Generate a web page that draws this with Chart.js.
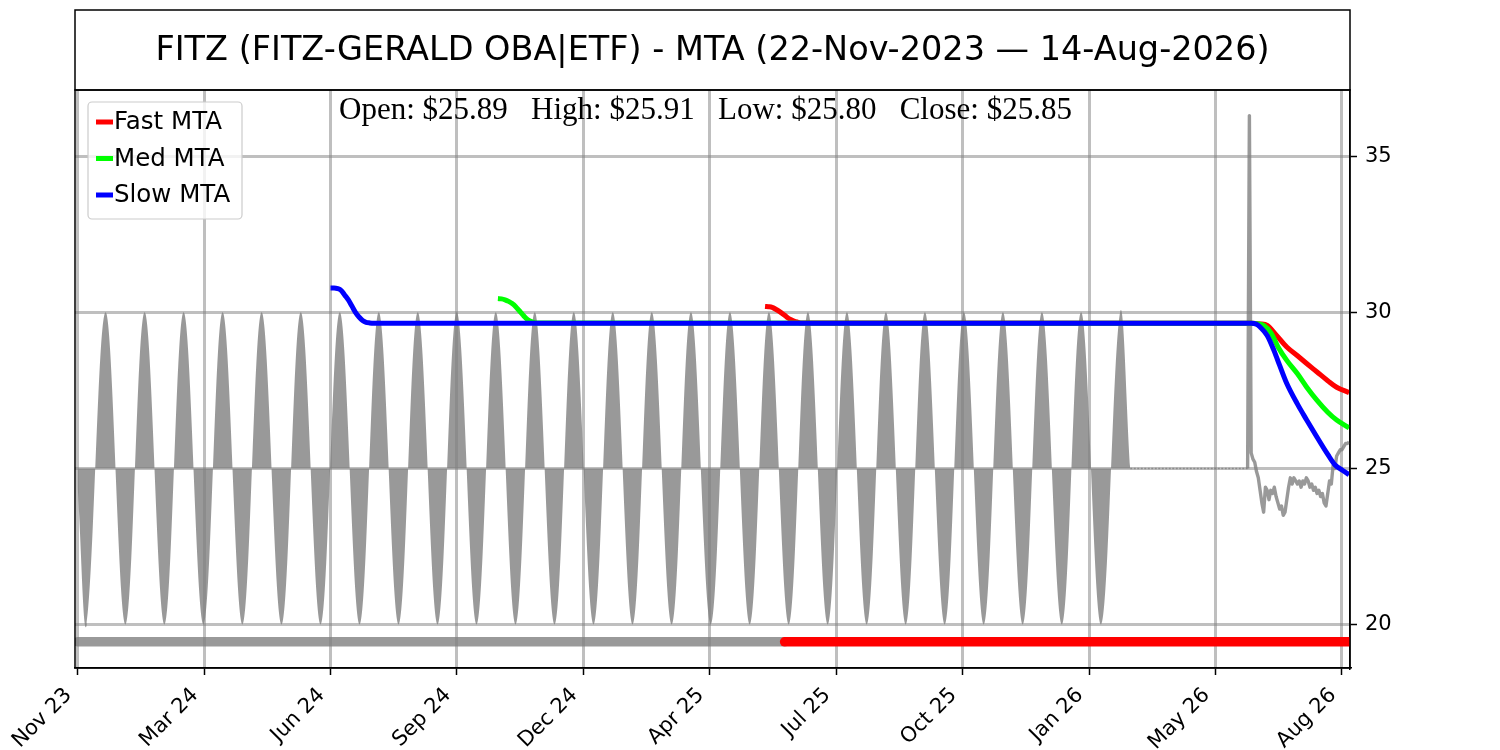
<!DOCTYPE html>
<html>
<head>
<meta charset="utf-8">
<title>FITZ MTA</title>
<script src="https://cdn.jsdelivr.net/npm/chart.js@4.4.1/dist/chart.umd.min.js"></script>
<style>
  html, body { margin: 0; padding: 0; background: #fff; }
  #wrap { width: 1500px; height: 750px; }
</style>
</head>
<body>
<div id="wrap"><canvas id="mtaChart" width="1500" height="750"></canvas></div>
<script>
const chartTitle = "FITZ (FITZ-GERALD OBA|ETF) - MTA (22-Nov-2023 \u2014 14-Aug-2026)";
const ohlcText = "Open: $25.89   High: $25.91   Low: $25.80   Close: $25.85";

// x is the trading-day index, ticks every 71 sessions
const xTickIdx = [0, 71, 142, 213, 284, 355, 426, 497, 568, 639, 710];
const xTickLabels = ["Nov 23", "Mar 24", "Jun 24", "Sep 24", "Dec 24", "Apr 25",
  "Jul 25", "Oct 25", "Jan 26", "May 26", "Aug 26"];
const yTicks = [20, 25, 30, 35];

// price swings (grey filled zone around 25): troughs at 20, peaks at 30
const swingStart = { x: 0, y: 24.4 };
const troughIdx = [5.1, 27.0, 48.9, 70.8, 92.7, 114.7, 136.6, 158.5, 180.4, 202.3, 224.2, 246.1, 268.0, 289.9,
  311.8, 333.8, 355.7, 377.6, 399.5, 421.4, 443.3, 465.2, 487.1, 509.0, 530.9, 552.9, 574.8];
const peakIdx = [15.7, 37.6, 59.5, 81.4, 103.3, 125.3, 147.2, 169.1, 191.0, 212.9, 234.8, 256.7, 278.6, 300.5,
  322.4, 344.4, 366.3, 388.2, 410.1, 432.0, 453.9, 475.8, 497.7, 519.6, 541.5, 563.5, 585.4];
const swingEnd = { x: 591.1, y: 25 };
const troughPrice = 20;
const basePrice = 25;
const peakPrice = 30;

// quiet stretch, then the live prices
const flatIdx = [591.1, 657];
const flatPrice = [25, 25];
const liveStart = 657;
const livePrice = [25.0, 36.3, 25.5, 25.3, 25.2, 24.9, 24.7, 24.3, 23.9, 23.6, 24.4, 24.3, 24.0, 24.3, 24.2,
  24.4, 24.1, 23.9, 23.7, 23.8, 23.5, 23.6, 24.0, 24.4, 24.7, 24.5, 24.7, 24.6, 24.5, 24.6, 24.4, 24.6,
  24.5, 24.7, 24.6, 24.4, 24.5, 24.3, 24.4, 24.2, 24.3, 24.1, 24.2, 23.9, 23.8, 24.2, 24.6, 24.5, 25.1,
  25.0, 25.4, 25.5, 25.6, 25.6, 25.7, 25.8, 25.8, 25.85];

// moving trend averages
const fastIdx = [386, 388, 390, 392, 394, 396, 398, 400, 402, 404, 406, 659, 664, 668, 673, 679, 685, 690, 696, 702, 707, 714];
const fastVal = [30.19, 30.18, 30.16, 30.1, 30.03, 29.95, 29.86, 29.78, 29.73, 29.69, 29.66, 29.65, 29.63, 29.58,
  29.28, 28.89, 28.61, 28.37, 28.09, 27.81, 27.6, 27.43];
const medIdx = [236, 238, 240, 242, 244, 246, 248, 250, 252, 254, 256, 258, 659, 663, 666, 670, 674, 679, 685, 690, 696, 702, 707, 714];
const medVal = [30.44, 30.43, 30.4, 30.35, 30.28, 30.18, 30.05, 29.92, 29.8, 29.72, 29.68, 29.66, 29.65, 29.63,
  29.58, 29.35, 28.9, 28.46, 28.03, 27.62, 27.18, 26.8, 26.55, 26.3];
const slowIdx = [142, 144, 146, 148, 150, 152, 154, 156, 158, 160, 162, 164, 166, 659, 662, 664, 668, 672, 675, 679,
  685, 690, 696, 702, 706, 710, 714];
const slowVal = [30.78, 30.78, 30.76, 30.7, 30.55, 30.4, 30.2, 30.0, 29.85, 29.74, 29.68, 29.66, 29.65, 29.65, 29.62,
  29.53, 29.26, 28.75, 28.3, 27.72, 27.06, 26.57, 26.0, 25.45, 25.12, 24.95, 24.8];

// signal strip along the bottom
const signalLevel = 19.45;
const signalOffIdx = [0, 397];
const signalOnIdx = [397, 714];

const GREY = "rgba(128,128,128,0.8)";

const pts = (xs, ys) => xs.map((x, i) => ({ x: x, y: ys[i] }));

const swingPoints = [swingStart];
troughIdx.forEach((t, k) => {
  swingPoints.push({ x: t, y: troughPrice });
  swingPoints.push({ x: peakIdx[k], y: peakPrice });
});
swingPoints.push(swingEnd);
const livePoints = livePrice.map((v, i) => ({ x: liveStart + i, y: v }));

const legendItems = [
  { label: "Fast MTA", color: "#ff0000" },
  { label: "Med MTA", color: "#00ff00" },
  { label: "Slow MTA", color: "#0000ff" },
];

function roundRect(ctx, x, y, w, h, r) {
  ctx.beginPath();
  ctx.moveTo(x + r, y);
  ctx.arcTo(x + w, y, x + w, y + h, r);
  ctx.arcTo(x + w, y + h, x, y + h, r);
  ctx.arcTo(x, y + h, x, y, r);
  ctx.arcTo(x, y, x + w, y, r);
  ctx.closePath();
}

const framePlugin = {
  id: "frame",
  beforeDraw(chart) {
    const ctx = chart.ctx;
    ctx.save();
    ctx.fillStyle = "#fff";
    ctx.fillRect(0, 0, chart.width, chart.height);
    ctx.restore();
  },
  afterDraw(chart) {
    const ctx = chart.ctx;
    const a = chart.chartArea;
    ctx.save();
    // title box and spines
    ctx.strokeStyle = "#000";
    ctx.lineWidth = 1.5;
    ctx.strokeRect(a.left, 10, a.right - a.left, a.top - 10);
    ctx.strokeRect(a.left, a.top, a.right - a.left, a.bottom - a.top);

    ctx.fillStyle = "#000";
    ctx.textAlign = "center";
    ctx.textBaseline = "middle";
    ctx.font = '33.5px "DejaVu Sans"';
    ctx.fillText(chartTitle, (a.left + a.right) / 2, 51);

    ctx.font = '31px "Liberation Serif"';
    ctx.fillText(ohlcText, 705.5, 111);

    // legend
    ctx.fillStyle = "rgba(255,255,255,0.8)";
    ctx.strokeStyle = "#cccccc";
    ctx.lineWidth = 1.2;
    roundRect(ctx, 88, 102, 154, 117, 4);
    ctx.fill();
    ctx.stroke();
    ctx.font = '24.5px "DejaVu Sans"';
    ctx.textAlign = "left";
    legendItems.forEach((it, i) => {
      const y = 122 + i * 36.5;
      ctx.strokeStyle = it.color;
      ctx.lineWidth = 5;
      ctx.beginPath();
      ctx.moveTo(96, y);
      ctx.lineTo(113, y);
      ctx.stroke();
      ctx.fillStyle = "#000";
      ctx.fillText(it.label, 114, y + 1);
    });
    ctx.restore();
  },
};

const lineBase = { pointRadius: 0, fill: false, tension: 0 };

new Chart(document.getElementById("mtaChart").getContext("2d"), {
  type: "line",
  data: {
    datasets: [
      { ...lineBase, label: "Slow MTA", data: pts(slowIdx, slowVal), borderColor: "#0000ff", borderWidth: 5,
        cubicInterpolationMode: "monotone" },
      { ...lineBase, label: "Med MTA", data: pts(medIdx, medVal), borderColor: "#00ff00", borderWidth: 5,
        cubicInterpolationMode: "monotone" },
      { ...lineBase, label: "Fast MTA", data: pts(fastIdx, fastVal), borderColor: "#ff0000", borderWidth: 5,
        cubicInterpolationMode: "monotone" },
      { ...lineBase, label: "Signal on", data: pts(signalOnIdx, [signalLevel, signalLevel]),
        borderColor: "#ff0000", borderWidth: 9.5, borderCapStyle: "round" },
      { ...lineBase, label: "Signal off", data: pts(signalOffIdx, [signalLevel, signalLevel]),
        borderColor: GREY, borderWidth: 9.5, borderCapStyle: "round" },
      { ...lineBase, label: "Price", data: livePoints, borderColor: GREY, borderWidth: 3.4, borderJoinStyle: "round" },
      { ...lineBase, label: "Price flat", data: pts(flatIdx, flatPrice), borderColor: GREY, borderWidth: 1.5,
        borderDash: [2, 1.5] },
      { ...lineBase, label: "Price swing", data: swingPoints, borderColor: "rgba(0,0,0,0)", borderWidth: 1,
        backgroundColor: GREY, fill: { value: basePrice }, tension: 0.38 },
    ],
  },
  options: {
    responsive: false,
    animation: false,
    devicePixelRatio: 1,
    layout: { padding: { left: 75, top: 90, right: 0, bottom: 0 } },
    plugins: {
      legend: { display: false },
      title: { display: false },
      tooltip: { enabled: false },
    },
    scales: {
      x: {
        type: "linear",
        min: -1.5,
        max: 714.5,
        afterBuildTicks: (s) => { s.ticks = xTickIdx.map((v) => ({ value: v })); },
        afterFit: (s) => { s.height = 82; },
        grid: { color: "rgba(128,128,128,0.5)", lineWidth: 3, tickLength: 7, tickColor: "#000", tickWidth: 1.5 },
        border: { color: "#000", width: 1.5 },
        ticks: {
          autoSkip: false,
          minRotation: 45,
          maxRotation: 45,
          labelOffset: -9,
          padding: 8,
          color: "#000",
          font: { family: "DejaVu Sans", size: 21 },
          callback: (v, i) => xTickLabels[i],
        },
      },
      y: {
        type: "linear",
        position: "right",
        min: 18.61,
        max: 37.12,
        afterBuildTicks: (s) => { s.ticks = yTicks.map((v) => ({ value: v })); },
        afterFit: (s) => { s.width = 150; },
        grid: { color: "rgba(128,128,128,0.5)", lineWidth: 3, tickLength: 7, tickColor: "#000", tickWidth: 1.5 },
        border: { color: "#000", width: 1.5 },
        ticks: { color: "#000", font: { family: "DejaVu Sans", size: 21 }, padding: 8 },
      },
    },
  },
  plugins: [framePlugin],
});
</script>
</body>
</html>
